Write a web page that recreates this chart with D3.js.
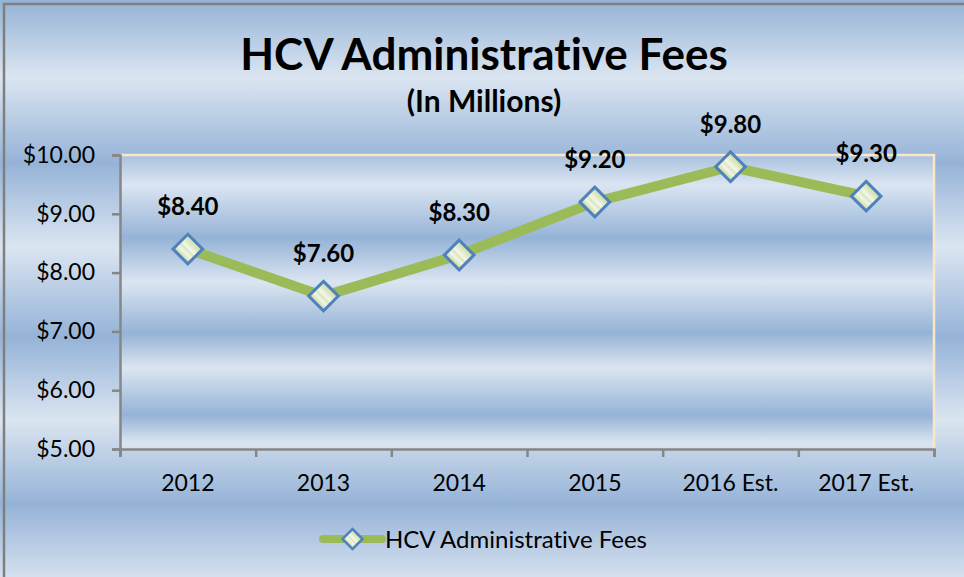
<!DOCTYPE html>
<html>
<head>
<meta charset="UTF-8">
<title>HCV Administrative Fees</title>
<script src="https://d3js.org/d3.v7.min.js"></script>
<style>
  body { margin: 0; background: #fff; }
  text { font-family: Lato, "Open Sans", sans-serif; fill: #000; font-variant-ligatures: none; }
</style>
</head>
<body>
<div id="chart"></div>
<script>
// data
var categories = ["2012", "2013", "2014", "2015", "2016 Est.", "2017 Est."];
var fees = [8.40, 7.60, 8.30, 9.20, 9.80, 9.30];
var yTicks = [5, 6, 7, 8, 9, 10];
var seriesName = "HCV Administrative Fees";
var title = "HCV Administrative Fees";
var subtitle = "(In Millions)";

var W = 964, H = 577;
var plot = {left: 120, top: 155, right: 934, bottom: 449};

var svg = d3.select("#chart").append("svg")
    .attr("width", W)
    .attr("height", H);

var defs = svg.append("defs");

// striped blue background of the chart area
var outer = defs.append("linearGradient")
    .attr("id", "outerFill")
    .attr("gradientUnits", "userSpaceOnUse")
    .attr("x1", 0).attr("y1", 0).attr("x2", 0).attr("y2", H);
[[0, "#94b2d6"], [77, "#dbe5f1"], [163, "#95b3d7"], [247, "#dbe5f1"],
 [337, "#95b3d7"], [420, "#dbe5f1"], [504, "#95b3d7"], [577, "#d5e0ef"]]
  .forEach(function(s) {
    outer.append("stop").attr("offset", s[0] / H).attr("stop-color", s[1]);
  });

// plot area has its own tighter stripes
var inner = defs.append("linearGradient")
    .attr("id", "plotFill")
    .attr("gradientUnits", "userSpaceOnUse")
    .attr("x1", 0).attr("y1", plot.top).attr("x2", 0).attr("y2", plot.bottom);
[[155, "#a9c1df"], [185, "#dbe5f1"], [238, "#95b3d7"], [282, "#dbe5f1"],
 [333, "#95b3d7"], [368, "#dbe5f1"], [415, "#95b3d7"], [443, "#dbe5f1"], [449, "#d5e0ef"]]
  .forEach(function(s) {
    inner.append("stop")
      .attr("offset", (s[0] - plot.top) / (plot.bottom - plot.top))
      .attr("stop-color", s[1]);
  });

// marker fill: light green with pale bands
var mk = defs.append("linearGradient")
    .attr("id", "markerFill")
    .attr("x1", 0).attr("y1", 0).attr("x2", 0).attr("y2", 1);
[[0, "#c9dba3"], [0.3, "#e4edd0"], [0.45, "#f4f8ea"], [0.55, "#d9e6bf"],
 [0.7, "#f1f6e6"], [1, "#c3d69b"]]
  .forEach(function(s) {
    mk.append("stop").attr("offset", s[0]).attr("stop-color", s[1]);
  });

svg.append("rect")
    .attr("x", 0).attr("y", 0)
    .attr("width", W).attr("height", H)
    .attr("fill", "url(#outerFill)");

svg.append("rect")
    .attr("x", 4).attr("y", 4)
    .attr("width", W - 2).attr("height", H + 20)
    .attr("fill", "none")
    .attr("stroke", "#7f7f7f")
    .attr("stroke-width", 2.5);

// titles
svg.append("text")
    .attr("x", 484).attr("y", 70)
    .attr("text-anchor", "middle")
    .style("font-size", "44px")
    .style("font-weight", "bold")
    .text(title);

svg.append("text")
    .attr("x", 484).attr("y", 112)
    .attr("text-anchor", "middle")
    .style("font-size", "30px")
    .style("font-weight", "bold")
    .text(subtitle);

// plot area
svg.append("rect")
    .attr("x", plot.left).attr("y", plot.top)
    .attr("width", plot.right - plot.left)
    .attr("height", plot.bottom - plot.top)
    .attr("fill", "url(#plotFill)");

svg.append("path")
    .attr("d", "M" + plot.left + "," + plot.top + "H" + plot.right + "V" + plot.bottom)
    .attr("fill", "none")
    .attr("stroke", "#fbe7c6")
    .attr("stroke-width", 2.5);

// scales
var x = d3.scaleBand()
    .domain(categories)
    .range([plot.left, plot.right]);

var xEdges = d3.scaleLinear()
    .domain([0, categories.length])
    .range([plot.left, plot.right]);

var y = d3.scaleLinear()
    .domain([5, 10])
    .range([plot.bottom, plot.top]);

// axes
var yAxis = svg.append("g")
    .attr("transform", "translate(" + plot.left + ",0)")
    .call(d3.axisLeft(y)
      .tickValues(yTicks)
      .tickFormat(function(d) { return "$" + d.toFixed(2); })
      .tickSize(8)
      .tickPadding(17));

var xTicks = svg.append("g")
    .attr("transform", "translate(0," + plot.bottom + ")")
    .call(d3.axisBottom(xEdges)
      .tickValues(d3.range(categories.length + 1))
      .tickFormat("")
      .tickSize(8));

var xLabels = svg.append("g")
    .attr("transform", "translate(0," + plot.bottom + ")")
    .call(d3.axisBottom(x).tickSize(0).tickPadding(26));
xLabels.select(".domain").remove();

[yAxis, xTicks].forEach(function(g) {
  g.selectAll("path, line")
    .attr("stroke", "#868686")
    .attr("stroke-width", 2.5);
});
[yAxis, xLabels].forEach(function(g) {
  g.selectAll("text")
    .style("font-size", "23px")
    .style("font-family", "Lato, 'Open Sans', sans-serif")
    .attr("fill", "#000");
});

// series line
var cx = function(i) { return x(categories[i]) + x.bandwidth() / 2; };

svg.append("path")
    .datum(fees)
    .attr("fill", "none")
    .attr("stroke", "#9bbb59")
    .attr("stroke-width", 10)
    .attr("stroke-linejoin", "round")
    .attr("d", d3.line()
      .x(function(d, i) { return cx(i); })
      .y(function(d) { return y(d); }));

var diamond = d3.symbol().type(d3.symbolSquare);

svg.selectAll(".marker")
  .data(fees)
  .enter()
  .append("path")
    .attr("class", "marker")
    .attr("d", diamond.size(440)())
    .attr("transform", function(d, i) {
      return "translate(" + cx(i) + "," + y(d) + ")rotate(45)";
    })
    .attr("fill", "url(#markerFill)")
    .attr("stroke", "#4f81bd")
    .attr("stroke-width", 3);

// data labels
svg.selectAll(".dlabel")
  .data(fees)
  .enter()
  .append("text")
    .attr("class", "dlabel")
    .attr("x", function(d, i) { return cx(i); })
    .attr("y", function(d) { return y(d) - 34; })
    .attr("text-anchor", "middle")
    .style("font-size", "24px")
    .style("font-weight", "bold")
    .text(function(d) { return "$" + d.toFixed(2); });

// legend
var legend = svg.append("g").attr("transform", "translate(323,539)");
legend.append("line")
    .attr("x1", 0).attr("x2", 59)
    .attr("stroke", "#9bbb59")
    .attr("stroke-width", 8)
    .attr("stroke-linecap", "round");
legend.append("path")
    .attr("d", diamond.size(200)())
    .attr("transform", "translate(29.5,0)rotate(45)")
    .attr("fill", "url(#markerFill)")
    .attr("stroke", "#4f81bd")
    .attr("stroke-width", 2.5);
legend.append("text")
    .attr("x", 62).attr("y", 9)
    .style("font-size", "24px")
    .text(seriesName);
</script>
</body>
</html>
